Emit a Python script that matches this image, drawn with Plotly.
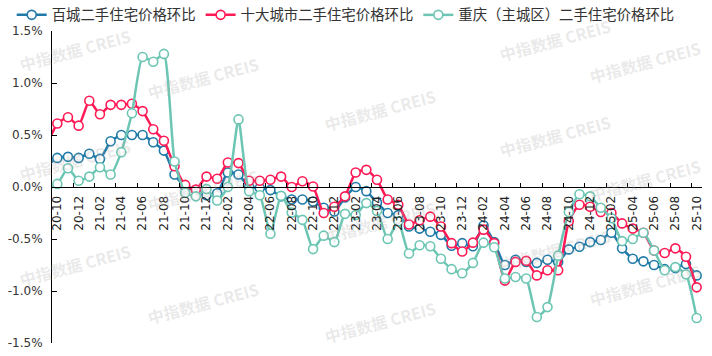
import plotly.graph_objects as go

months = ["20-09", "20-10", "20-11", "20-12", "21-01", "21-02", "21-03", "21-04", "21-05", "21-06",
          "21-07", "21-08", "21-09", "21-10", "21-11", "21-12", "22-01", "22-02", "22-03", "22-04",
          "22-05", "22-06", "22-07", "22-08", "22-09", "22-10", "22-11", "22-12", "23-01", "23-02",
          "23-03", "23-04", "23-05", "23-06", "23-07", "23-08", "23-09", "23-10", "23-11", "23-12",
          "24-01", "24-02", "24-03", "24-04", "24-05", "24-06", "24-07", "24-08", "24-09", "24-10",
          "24-11", "24-12", "25-01", "25-02", "25-03", "25-04", "25-05", "25-06", "25-07", "25-08",
          "25-09", "25-10"]

hundred_cities = [0.20, 0.28, 0.29, 0.28, 0.32, 0.27, 0.44, 0.50, 0.50, 0.50,
                  0.43, 0.35, 0.12, 0.00, -0.03, -0.08, -0.06, 0.14, 0.12, 0.00,
                  -0.01, -0.03, -0.09, -0.12, -0.12, -0.14, -0.20, -0.235, -0.10, 0.00,
                  -0.04, -0.15, -0.25, -0.27, -0.38, -0.40, -0.43, -0.46, -0.565, -0.54,
                  -0.57, -0.37, -0.53, -0.75, -0.70, -0.72, -0.73, -0.70, -0.72, -0.60,
                  -0.575, -0.53, -0.51, -0.44, -0.59, -0.69, -0.715, -0.75, -0.79, -0.78,
                  -0.74, -0.85]

ten_cities = [0.40, 0.61, 0.67, 0.59, 0.83, 0.70, 0.79, 0.79, 0.80, 0.73,
              0.555, 0.445, 0.20, 0.02, -0.025, 0.10, 0.08, 0.235, 0.23, 0.06,
              0.06, 0.07, 0.10, 0.00, 0.055, 0.005, -0.25, -0.19, -0.09, 0.14,
              0.165, 0.07, -0.12, -0.17, -0.36, -0.32, -0.285, -0.38, -0.54, -0.62,
              -0.535, -0.41, -0.54, -0.90, -0.72, -0.71, -0.85, -0.80, -0.80, -0.33,
              -0.17, -0.19, -0.24, -0.25, -0.35, -0.40, -0.44, -0.61, -0.635, -0.59,
              -0.67, -0.965]

chongqing = [-0.03, 0.03, 0.18, 0.06, 0.10, 0.19, 0.12, 0.335, 0.71, 1.25,
             1.205, 1.28, 0.245, -0.055, -0.09, -0.02, -0.13, 0.00, 0.65, -0.04,
             -0.08, -0.45, -0.085, -0.245, -0.316, -0.597, -0.468, -0.53, -0.258, -0.27,
             -0.155, -0.23, -0.50, -0.33, -0.64, -0.56, -0.57, -0.69, -0.79, -0.83,
             -0.73, -0.535, -0.58, -0.88, -0.865, -0.88, -1.25, -1.155, -0.66, -0.24,
             -0.07, -0.09, -0.20, -0.30, -0.52, -0.50, -0.44, -0.61, -0.80, -0.77,
             -0.84, -1.26]

series_names = ["百城二手住宅价格环比", "十大城市二手住宅价格环比", "重庆（主城区）二手住宅价格环比"]
series_colors = ["#1f7aa8", "#ff1a55", "#6cc6b3"]

y_tick_vals = [-1.5, -1.0, -0.5, 0.0, 0.5, 1.0, 1.5]
y_tick_text = ["-1.5%", "-1.0%", "-0.5%", "0.0%", "0.5%", "1.0%", "1.5%"]

watermark_text = "<b>中指数据 CREIS</b>"
watermark_x = [75, 203, 380, 555, 645, 75, 203, 380, 555, 645, 75, 203, 380, 555, 645]
watermark_y = [50, 78, 110, 40, 62, 160, 190, 222, 136, 180, 265, 303, 322, 250, 285]

fig = go.Figure()
for name, vals, col in zip(series_names, [hundred_cities, ten_cities, chongqing], series_colors):
    fig.add_trace(go.Scatter(
        x=months, y=vals, name=name, mode="lines+markers",
        line=dict(color=col, width=2.5, shape="spline", smoothing=0.5),
        marker=dict(symbol="circle", size=9, color="white", line=dict(color=col, width=1.6)),
        cliponaxis=True,
    ))

W, H = 712, 356
ml, mr, mt, mb = 52, 10, 31, 13
pw, ph = W - ml - mr, H - mt - mb

for tx, ty in zip(watermark_x, watermark_y):
    fig.add_annotation(
        text=watermark_text, xref="paper", yref="paper",
        x=(tx - ml) / pw, y=1 - (ty - mt) / ph, showarrow=False,
        textangle=-15, font=dict(size=16, color="rgba(170,170,170,0.25)", family="Noto Sans CJK SC"),
        xanchor="center", yanchor="middle",
    )

fig.update_layout(
    width=W, height=H,
    margin=dict(l=ml, r=mr, t=mt, b=mb, autoexpand=False),
    paper_bgcolor="white", plot_bgcolor="white",
    font=dict(family="Noto Sans CJK SC", color="#333333", size=12),
    showlegend=True,
    legend=dict(orientation="h", x=-0.062, y=1.0, xanchor="left", yanchor="bottom",
                font=dict(size=14.4, color="#333333", family="Noto Sans CJK SC"),
                bgcolor="rgba(0,0,0,0)", itemwidth=30, tracegroupgap=0),
    xaxis=dict(
        type="category", categoryorder="array", categoryarray=months,
        range=[0.5, len(months) - 0.5],
        tickmode="array", tickvals=months[1::2], ticktext=months[1::2],
        tickson="boundaries", ticks="inside", ticklen=4, tickcolor="black", tickwidth=1,
        tickangle=-90, tickfont=dict(family="DejaVu Sans", size=12, color="#222222"),
        showline=True, linecolor="black", linewidth=1,
        showgrid=False, zeroline=False,
        anchor="free", position=0.5, ticklabelstandoff=3,
    ),
    yaxis=dict(
        range=[-1.5, 1.5], tickmode="array", tickvals=y_tick_vals, ticktext=y_tick_text,
        ticks="inside", ticklen=5, tickcolor="black", tickwidth=1,
        tickfont=dict(family="DejaVu Sans", size=12, color="#333333"),
        showline=True, linecolor="black", linewidth=1,
        showgrid=False, zeroline=False, ticklabelstandoff=6,
    ),
)

fig.write_html("out.html", config={"displayModeBar": False},
               post_script="document.body.style.margin='0';document.body.style.padding='0';")
